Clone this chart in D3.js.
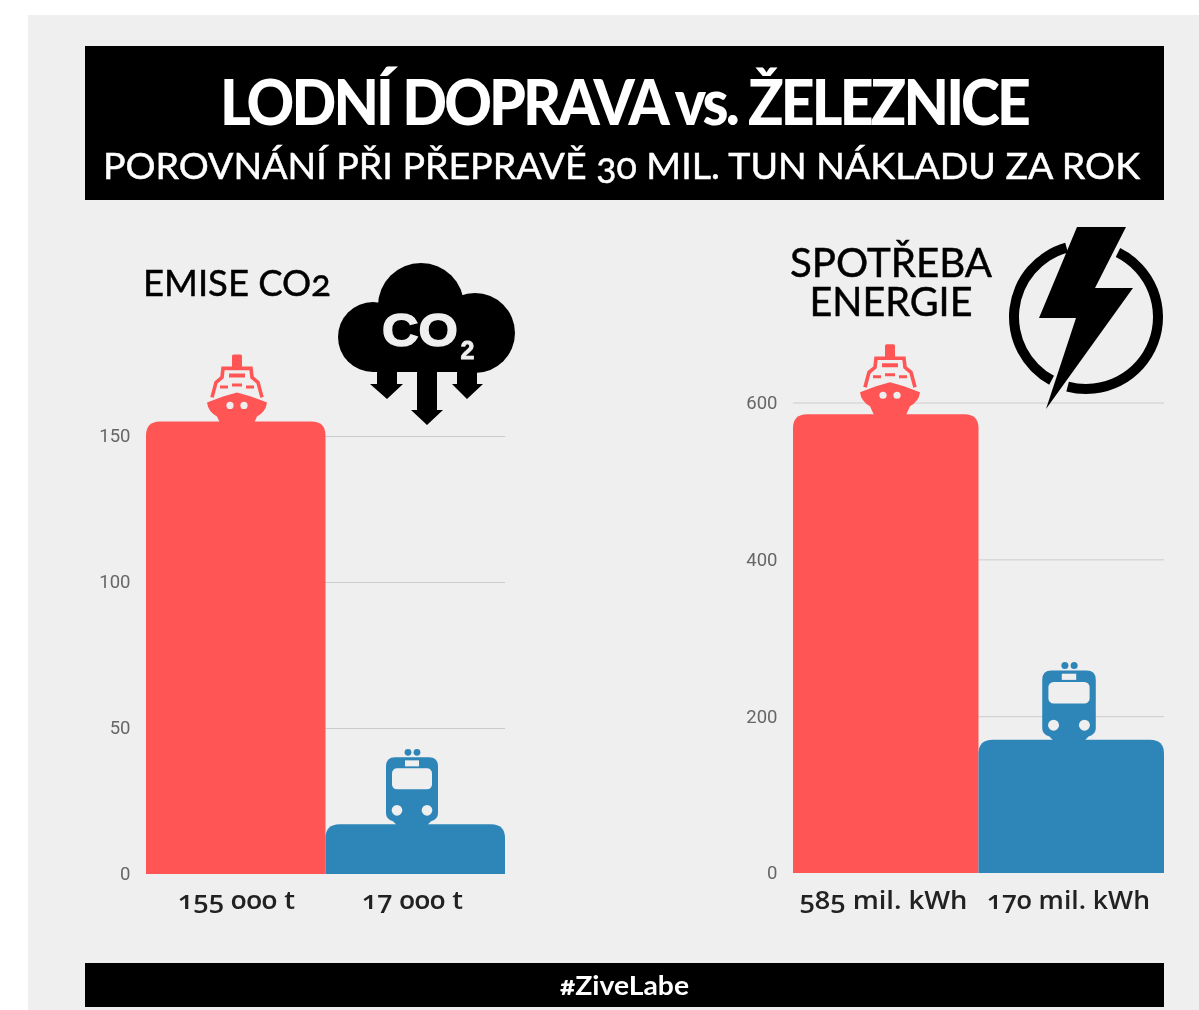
<!DOCTYPE html>
<html><head><meta charset="utf-8">
<script src="https://cdn.jsdelivr.net/npm/d3@7/dist/d3.min.js"></script>
<style>html,body{margin:0;padding:0;background:#fff}svg{display:block;filter:blur(0.45px)}text{font-family:Lato,sans-serif}</style>
</head><body><div id="c"></div>
<script>
const co2Categories = ["Lodní doprava", "Železnice"];
const co2Values = [155, 17];
const co2Labels = ["155 000 t", "17 000 t"];
const co2Ticks = [0, 50, 100, 150];
const energyCategories = ["Lodní doprava", "Železnice"];
const energyValues = [585, 170];
const energyLabels = ["585 mil. kWh", "170 mil. kWh"];
const energyTicks = [0, 200, 400, 600];
const barColors = ["#ff5555", "#2e86b8"];

const svg = d3.select("#c").append("svg").attr("width", 1199).attr("height", 1010);
svg.append("rect").attr("x", 28).attr("y", 15).attr("width", 1175).attr("height", 999).attr("fill", "#efefef");
svg.append("rect").attr("x", 85).attr("y", 46).attr("width", 1079).attr("height", 154).attr("fill", "#000");
svg.append("rect").attr("x", 85).attr("y", 963).attr("width", 1079).attr("height", 44).attr("fill", "#000");

function txt(x, y, s, size, opts = {}) {
  const t = svg.append("text").attr("x", x).attr("y", y).attr("text-anchor", opts.anchor || "middle")
    .attr("font-size", size).attr("font-weight", opts.weight || 400).attr("fill", opts.fill || "#000")
    .style("font-variant-numeric", "oldstyle-nums").text(s);
  if (opts.ls) t.attr("letter-spacing", opts.ls);
  if (opts.len) t.attr("textLength", opts.len).attr("lengthAdjust", "spacingAndGlyphs");
  if (opts.stroke) t.attr("stroke", opts.fill || "#000").attr("stroke-width", opts.stroke);
  return t;
}
txt(624, 125, "LODNÍ DOPRAVA vs. ŽELEZNICE", 62, {weight: 900, fill: "#fff", len: 808, ls: -3});
txt(621.5, 179, "POROVNÁNÍ PŘI PŘEPRAVĚ 30 MIL. TUN NÁKLADU ZA ROK", 36.5, {fill: "#fff", len: 1037, stroke: 0.5});
txt(624.5, 995, "#ZiveLabe", 27, {weight: 700, fill: "#fff", len: 129});
txt(237, 296, "EMISE CO2", 37, {stroke: 0.5, len: 188});
txt(891, 277, "SPOTŘEBA", 40, {stroke: 0.5, len: 202});
txt(891, 316, "ENERGIE", 40, {stroke: 0.5, len: 163});

function topRounded(x, y, w, h, r) {
  return `M${x},${y + h}V${y + r}Q${x},${y} ${x + r},${y}H${x + w - r}Q${x + w},${y} ${x + w},${y + r}V${y + h}Z`;
}

function ship(g, c) {
  g.append("path").attr("fill", c).attr("d",
    "M-30,-3 L-14,-9 L0,-13 L14,-9 L30,-3 Q29,6 20,11 L15,22 L-15,22 L-20,11 Q-29,6 -30,-3Z");
  g.append("rect").attr("x", -5).attr("y", -51).attr("width", 10).attr("height", 14).attr("rx", 1.5).attr("fill", c);
  g.append("path").attr("fill", "none").attr("stroke", c).attr("stroke-width", 3.6).attr("d",
    "M-25,-8 L-21,-23 L-15,-28 L-14,-37 H14 L15,-28 L21,-23 L25,-8");
  g.append("path").attr("fill", c).attr("d", "M-8,-32H8V-28H-8Z M-17,-20H-9V-17H-17Z M-5,-22H5V-19H-5Z M9,-20H17V-17H9Z");
  g.selectAll("circle").data([-7, 7]).join("circle").attr("cx", d => d).attr("cy", 0).attr("r", 3.6).attr("fill", "#efefef");
}
function train(g, c, s) {
  g.attr("transform", g.attr("transform") + ` scale(${s})`);
  g.selectAll("circle.d").data([-4, 5]).join("circle").attr("class", "d").attr("cx", d => d).attr("cy", -74).attr("r", 3.4).attr("fill", c);
  g.append("path").attr("fill", c).attr("d",
    "M-17,-69 H17 Q26,-69 26,-60 V-13 Q26,-7 19,-5 L14,0 H-14 L-19,-5 Q-26,-7 -26,-13 V-60 Q-26,-69 -17,-69Z");
  g.append("rect").attr("x", -20).attr("y", -58).attr("width", 40).attr("height", 21).attr("rx", 5).attr("fill", "#efefef");
  g.append("rect").attr("x", -7).attr("y", -66).attr("width", 14).attr("height", 6).attr("fill", "#efefef");
  g.selectAll("circle.w").data([-15, 15]).join("circle").attr("class", "w").attr("cx", d => d).attr("cy", -16).attr("r", 5.3).attr("fill", "#efefef");
}

function panel(cfg) {
  const y = d3.scaleLinear().domain(cfg.domain).range(cfg.range);
  const x = d3.scaleBand().domain(cfg.categories).range([cfg.x0, cfg.x1]).padding(0);
  const axis = svg.append("g").attr("transform", `translate(${cfg.x0},0)`)
    .call(d3.axisLeft(y).tickValues(cfg.ticks).tickSize(0).tickPadding(15.5).tickFormat(d3.format("d")));
  axis.select(".domain").remove();
  axis.selectAll("text").attr("font-size", 18.5).attr("fill", "#666").style("font-family", "Roboto");
  svg.append("g").selectAll("line").data(cfg.ticks.filter(d => d > 0)).join("line")
    .attr("x1", cfg.x0).attr("x2", cfg.x1).attr("y1", d => y(d) + .5).attr("y2", d => y(d) + .5)
    .attr("stroke", "#ccc");
  svg.append("g").selectAll("path").data(cfg.values).join("path")
    .attr("fill", (d, i) => barColors[i])
    .attr("d", (d, i) => topRounded(x(cfg.categories[i]), y(d), x.bandwidth(), y(0) - y(d), 14));
  cfg.labels.forEach((l, i) => txt(cfg.labelX[i], 909, l, 26, {weight: 600, fill: "#222", len: cfg.labelLen[i]}).style("font-family", "'Open Sans'"));
  ship(svg.append("g").attr("transform", `translate(${cfg.shipX},${y(cfg.values[0]) - cfg.shipUp})`), barColors[0]);
  train(svg.append("g").attr("transform", `translate(${cfg.trainX},${y(cfg.values[1]) + 2})`), barColors[1], cfg.trainScale);
}
panel({domain: [0, 150], range: [874, 436], ticks: co2Ticks, categories: co2Categories, values: co2Values, labels: co2Labels,
  x0: 146, x1: 505, labelX: [236.5, 412.5], labelLen: [117, 101], shipX: 237, shipUp: 16, trainX: 412, trainScale: 1});
panel({domain: [0, 600], range: [873, 402.5], ticks: energyTicks, categories: energyCategories, values: energyValues, labels: energyLabels,
  x0: 793, x1: 1164, labelX: [883.5, 1068.5], labelLen: [168, 163], shipX: 890, shipUp: 19, trainX: 1069, trainScale: 1.03});

// CO2 cloud icon
const cloud = svg.append("g");
[[373, 337, 35], [421, 306, 43], [475, 333, 40]].forEach(c =>
  cloud.append("circle").attr("cx", c[0]).attr("cy", c[1]).attr("r", c[2]));
cloud.append("rect").attr("x", 373).attr("y", 310).attr("width", 102).attr("height", 62);
cloud.append("path").attr("d", "M377,370H397V384H403L387,399L370,384H377Z M417,370H437V410H443L427,425L411,410H417Z M457,370H477V384H483L467,399L452,384H457Z");
txt(420, 346, "CO", 47, {weight: 700, fill: "#efefef", stroke: 1.4, len: 76}).style("font-family", "'Liberation Sans'");
txt(467.5, 359, "2", 25, {weight: 700, fill: "#efefef", stroke: 0.8}).style("font-family", "'Liberation Sans'");

// Lightning icon
const bolt = svg.append("g");
const arc = d3.arc().innerRadius(67).outerRadius(77);
bolt.append("path").attr("transform", "translate(1086,317)").attr("d", arc({startAngle: 0.46, endAngle: 3.40}));
bolt.append("path").attr("transform", "translate(1086,317)").attr("d", arc({startAngle: 3.64, endAngle: 6.01}));
bolt.append("path").attr("d", "M1077,227H1126L1095,288H1133L1046,409L1076,318H1039Z");
</script></body></html>
